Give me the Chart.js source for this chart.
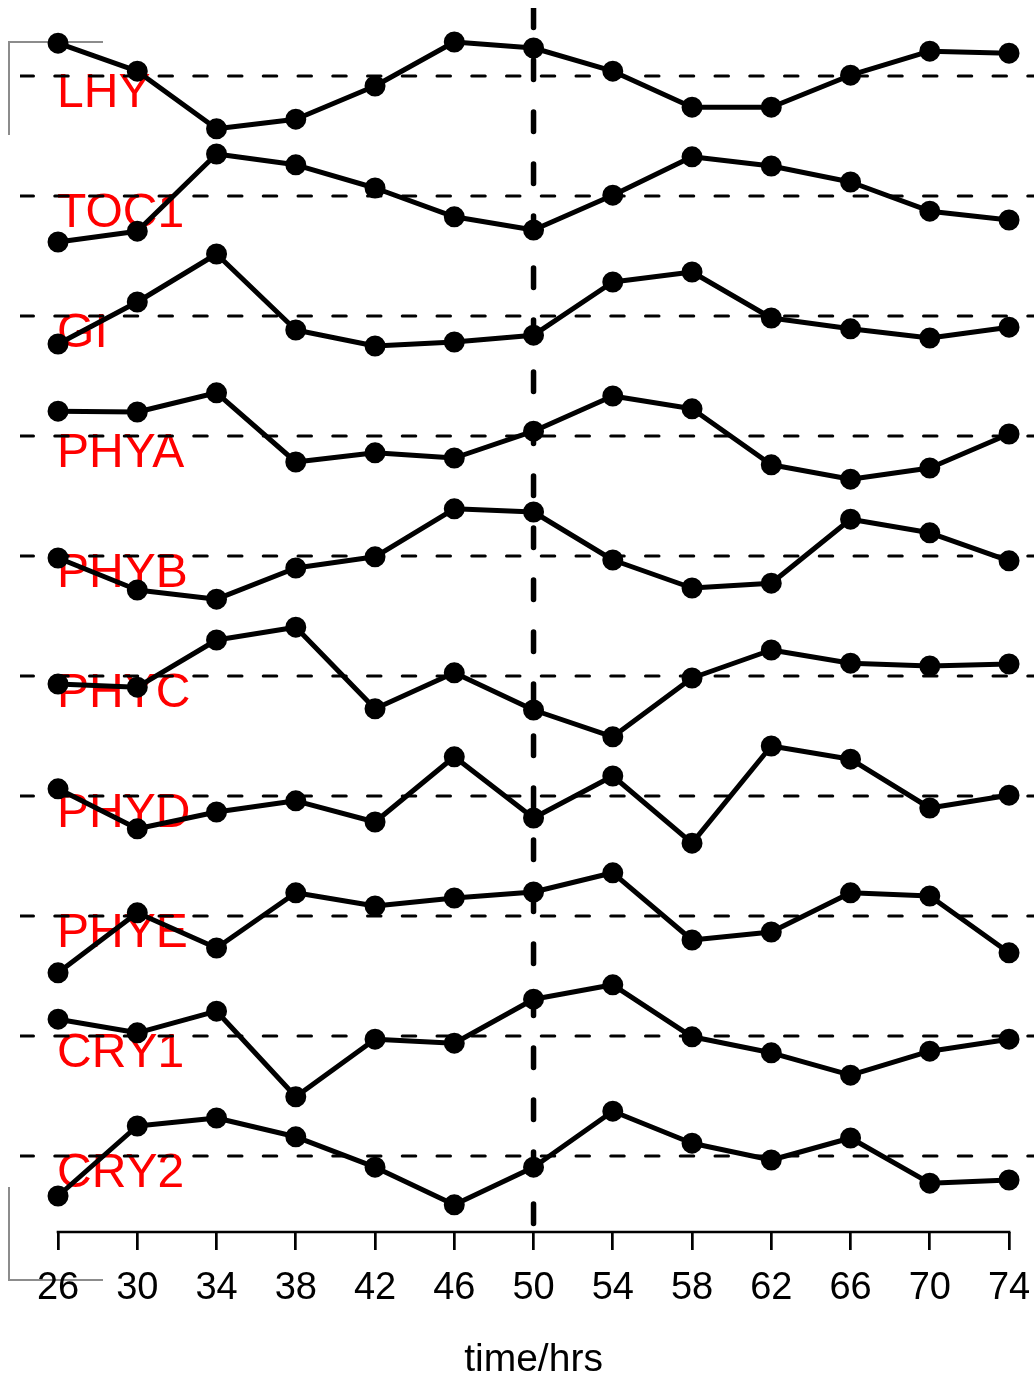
<!DOCTYPE html>
<html>
<head>
<meta charset="utf-8">
<script src="https://cdn.jsdelivr.net/npm/chart.js@4.4.1/dist/chart.umd.min.js"></script>
<style>
  html, body { margin: 0; padding: 0; background: #fff; }
  canvas { display: block; }
</style>
</head>
<body>
<canvas id="chart" width="1034" height="1374"></canvas>
<script>
/*** dados ***/
const horas = [26, 30, 34, 38, 42, 46, 50, 54, 58, 62, 66, 70, 74];
const genes = ['LHY', 'TOC1', 'GI', 'PHYA', 'PHYB', 'PHYC', 'PHYD', 'PHYE', 'CRY1', 'CRY2'];
const tituloX = 'time/hrs';

// expressão normalizada de cada gene (desvio em relação à linha tracejada)
const lhy = [0.82, 0.12, -1.32, -1.08, -0.25, 0.85, 0.7, 0.12, -0.78, -0.78, 0.02, 0.62, 0.57];
const toc1 = [-1.15, -0.88, 1.05, 0.78, 0.2, -0.52, -0.85, 0.02, 0.98, 0.75, 0.35, -0.38, -0.6];
const gi = [-0.7, 0.35, 1.55, -0.35, -0.75, -0.65, -0.48, 0.85, 1.1, -0.05, -0.32, -0.55, -0.28];
const phya = [0.62, 0.6, 1.08, -0.65, -0.42, -0.55, 0.12, 1.0, 0.68, -0.72, -1.08, -0.8, 0.05];
const phyb = [-0.05, -0.85, -1.08, -0.3, -0.02, 1.18, 1.1, -0.1, -0.8, -0.68, 0.92, 0.58, -0.12];
const phyc = [-0.2, -0.28, 0.9, 1.22, -0.82, 0.08, -0.85, -1.52, -0.05, 0.65, 0.32, 0.25, 0.3];
const phyd = [0.18, -0.82, -0.4, -0.12, -0.65, 0.98, -0.55, 0.5, -1.18, 1.25, 0.92, -0.3, 0.02];
const phye = [-1.42, 0.08, -0.8, 0.58, 0.25, 0.45, 0.6, 1.08, -0.6, -0.4, 0.58, 0.5, -0.92];
const cry1 = [0.42, 0.08, 0.62, -1.52, -0.08, -0.18, 0.92, 1.28, -0.02, -0.42, -0.98, -0.38, -0.08];
const cry2 = [-1.0, 0.75, 0.95, 0.48, -0.28, -1.22, -0.28, 1.12, 0.32, -0.1, 0.45, -0.68, -0.6];
const expressao = [lhy, toc1, gi, phya, phyb, phyc, phyd, phye, cry1, cry2];

const horaMarcada = 50;
const espaco = 3; // distância vertical entre os genes

// limites dos eixos
const xMin = 24.08;
const xMax = 75.26;
const yMin = -28.9;
const yMax = 1.7;

const fonte = "'Liberation Sans', Arial, Helvetica, sans-serif";

/*** datasets ***/
const linhasBase = genes.map((nome, k) => ({
  label: nome + '-base',
  data: [
    { x: xMin, y: -k * espaco },
    { x: xMax, y: -k * espaco },
  ],
  borderColor: '#000',
  borderWidth: 3,
  borderDash: [13.5, 21.25],
  borderCapStyle: 'round',
  pointRadius: 0,
  order: 3,
}));

const linhaHora = {
  label: 'hora-' + horaMarcada,
  data: [
    { x: horaMarcada, y: yMax },
    { x: horaMarcada, y: yMin },
  ],
  borderColor: '#000',
  borderWidth: 5.5,
  borderDash: [19.5, 32.5],
  borderCapStyle: 'round',
  pointRadius: 0,
  order: 2,
};

const curvas = genes.map((nome, k) => ({
  label: nome,
  data: horas.map((h, i) => ({ x: h, y: expressao[k][i] - k * espaco })),
  borderColor: '#000',
  borderWidth: 5,
  borderJoinStyle: 'round',
  borderCapStyle: 'round',
  pointRadius: 8.5,
  pointBorderWidth: 4,
  pointBackgroundColor: '#000',
  pointBorderColor: '#000',
  tension: 0,
  order: 1,
}));

/*** plugins ***/
// nomes dos genes em vermelho, por baixo das curvas
const nomesGenes = {
  id: 'nomesGenes',
  beforeDatasetsDraw(chart) {
    const { ctx, scales } = chart;
    ctx.save();
    ctx.fillStyle = '#ff0000';
    ctx.font = '48px ' + fonte;
    ctx.textAlign = 'left';
    ctx.textBaseline = 'alphabetic';
    genes.forEach((nome, k) => {
      const x = scales.x.getPixelForValue(horas[0]) - 1;
      const y = scales.y.getPixelForValue(-k * espaco) + 31;
      ctx.fillText(nome, x, y);
    });
    ctx.restore();
  },
};

// linha do eixo x só entre o primeiro e o último tick, e o título centrado nela
const linhaEixo = {
  id: 'linhaEixo',
  afterDraw(chart) {
    const { ctx, scales, chartArea } = chart;
    const x0 = scales.x.getPixelForValue(horas[0]);
    const x1 = scales.x.getPixelForValue(horas[horas.length - 1]);
    ctx.save();
    ctx.strokeStyle = '#000';
    ctx.lineWidth = 2.7;
    ctx.beginPath();
    ctx.moveTo(x0 - 1.35, chartArea.bottom);
    ctx.lineTo(x1 + 1.35, chartArea.bottom);
    ctx.stroke();

    ctx.fillStyle = '#000';
    ctx.font = '39px ' + fonte;
    ctx.textAlign = 'center';
    ctx.textBaseline = 'alphabetic';
    ctx.fillText(tituloX, (x0 + x1) / 2, chartArea.bottom + 139);
    ctx.restore();
  },
};

// marcas de corte cinzas no canto esquerdo
const marcasCorte = {
  id: 'marcasCorte',
  beforeDraw(chart) {
    const { ctx } = chart;
    ctx.save();
    ctx.strokeStyle = '#8c8c8c';
    ctx.lineWidth = 2;
    ctx.beginPath();
    ctx.moveTo(103, 42);
    ctx.lineTo(9, 42);
    ctx.lineTo(9, 135);
    ctx.moveTo(9, 1187);
    ctx.lineTo(9, 1280);
    ctx.lineTo(103, 1280);
    ctx.stroke();
    ctx.restore();
  },
};

/*** gráfico ***/
new Chart(document.getElementById('chart'), {
  type: 'line',
  data: {
    datasets: [...linhasBase, linhaHora, ...curvas],
  },
  options: {
    responsive: false,
    animation: false,
    events: [],
    layout: {
      autoPadding: false,
      padding: { left: 20, right: 0, top: 8, bottom: 0 },
    },
    plugins: {
      legend: { display: false },
      tooltip: { enabled: false },
    },
    scales: {
      x: {
        type: 'linear',
        position: 'bottom',
        min: xMin,
        max: xMax,
        afterBuildTicks: (scale) => {
          scale.ticks = horas.map((h) => ({ value: h }));
        },
        afterFit: (scale) => {
          // altura fixa do eixo e sem folga lateral para os rótulos
          scale.height = 142;
          scale.paddingLeft = 0;
          scale.paddingRight = 0;
        },
        border: { display: false },
        grid: {
          drawOnChartArea: false,
          drawTicks: true,
          tickLength: 18,
          color: '#000',
          lineWidth: 2.7,
        },
        ticks: {
          color: '#000',
          padding: 16,
          autoSkip: false,
          maxRotation: 0,
          font: { family: fonte, size: 38 },
          callback: (valor) => valor,
        },
      },
      y: {
        type: 'linear',
        display: false,
        min: yMin,
        max: yMax,
      },
    },
  },
  plugins: [marcasCorte, nomesGenes, linhaEixo],
});
</script>
</body>
</html>
